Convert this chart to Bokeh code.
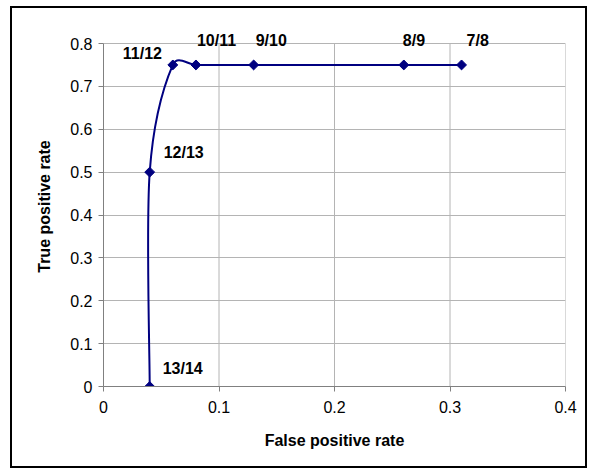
import numpy as np
from bokeh.plotting import figure
from bokeh.models import ColumnDataSource, FixedTicker, Range1d, LabelSet
from bokeh.core.properties import value
from bokeh.embed import file_html
from bokeh.resources import INLINE

# ---- data ----
fpr = [0.04, 0.04, 0.06, 0.08, 0.13, 0.26, 0.31]
tpr = [0.0, 0.5, 0.75, 0.75, 0.75, 0.75, 0.75]
labels = ["13/14", "12/13", "11/12", "10/11", "9/10", "8/9", "7/8"]
x_ticks = [0, 0.1, 0.2, 0.3, 0.4]
x_tick_labels = ["0", "0.1", "0.2", "0.3", "0.4"]
y_ticks = [0, 0.1, 0.2, 0.3, 0.4, 0.5, 0.6, 0.7, 0.8]
y_tick_labels = ["0", "0.1", "0.2", "0.3", "0.4", "0.5", "0.6", "0.7", "0.8"]

# label placement (pixels, style; dy positive = up)
label_dx = [13, 14, -50, 1, 2, -1, 5]
label_dy = [18, 20, 11, 24, 24, 24, 24]

# ---- layout (pixels) ----
W, H = 577, 462
ML, MR = 91, 24
AX_W, AX_H = 462, 343          # pixel size of the 0..0.4 x 0..0.8 axes box
PAD_TOP = 17                   # extra frame room so labels are not clipped
AX_TOP = 35                    # canvas y of 0.8
XMIN, XMAX = 0.0, 0.4
Y0, Y1 = 0.0, 0.8
sx = AX_W / (XMAX - XMIN)
sy = AX_H / (Y1 - Y0)
YMIN = Y0
YMAX = Y1 + PAD_TOP / sy
MT = AX_TOP - PAD_TOP
MB = H - (AX_TOP + AX_H)

# Excel-like smoothing: Bezier control points computed in screen space
P = np.array([[x * sx, -y * sy] for x, y in zip(fpr, tpr)])
n = len(P)
segs = {k: [] for k in ["x0", "y0", "x1", "y1", "cx0", "cy0", "cx1", "cy1"]}
for i in range(n - 1):
    p0 = P[i - 1] if i > 0 else P[i]
    p1 = P[i]
    p2 = P[i + 1]
    p3 = P[i + 2] if i + 2 < n else P[i + 1]
    t1 = (p2 - p0) / 6.0
    t2 = (p3 - p1) / 6.0
    d = np.linalg.norm(p2 - p1)
    m = max(np.linalg.norm(t1), np.linalg.norm(t2))
    f = 1.0
    if m > d / 2 and m > 0:
        f = (d / 2) / m
    c1 = p1 + t1 * f
    c2 = p2 - t2 * f
    segs["x0"].append(p1[0] / sx); segs["y0"].append(-p1[1] / sy)
    segs["x1"].append(p2[0] / sx); segs["y1"].append(-p2[1] / sy)
    segs["cx0"].append(c1[0] / sx); segs["cy0"].append(-c1[1] / sy)
    segs["cx1"].append(c2[0] / sx); segs["cy1"].append(-c2[1] / sy)

p = figure(width=W, height=H, output_backend="svg", toolbar_location=None,
           x_range=Range1d(XMIN, XMAX), y_range=Range1d(YMIN, YMAX),
           min_border_left=ML, min_border_right=MR, min_border_top=MT,
           min_border_bottom=MB)
p.styles = {"border": "2px solid black", "margin-left": "10px", "margin-top": "6px"}
p.outline_line_color = None
p.background_fill_color = "white"
p.border_fill_color = "white"

font = "Liberation Sans"
for ax in (p.xaxis, p.yaxis):
    ax.axis_line_color = "#808080"
    ax.major_tick_line_color = "#808080"
    ax.major_tick_out = 5
    ax.major_tick_in = 0
    ax.minor_tick_line_color = None
    ax.major_label_text_font = font
    ax.major_label_text_font_size = "16px"
    ax.major_label_text_color = "black"
    ax.axis_label_text_font = font
    ax.axis_label_text_font_size = "16px"
    ax.axis_label_text_font_style = "bold"
    ax.axis_label_text_color = "black"

p.xaxis.ticker = FixedTicker(ticks=x_ticks)
p.yaxis.ticker = FixedTicker(ticks=y_ticks)
p.xaxis.major_label_overrides = {t: l for t, l in zip(x_ticks, x_tick_labels)}
p.yaxis.major_label_overrides = {t: l for t, l in zip(y_ticks, y_tick_labels)}
p.xaxis.axis_label = "False positive rate"
p.yaxis.axis_label = "True positive rate"
p.xaxis.major_label_standoff = 9
p.yaxis.major_label_standoff = 6
p.xaxis.axis_label_standoff = 16
p.yaxis.axis_label_standoff = 14
p.yaxis.bounds = (Y0, Y1)

# grid: horizontal from axis grid, vertical drawn over the 0..0.8 span only
grid_color = "#b4b4b4"
p.ygrid.grid_line_color = grid_color
p.xgrid.grid_line_color = None
p.segment(x0=x_ticks, y0=[Y0] * len(x_ticks), x1=x_ticks, y1=[Y1] * len(x_ticks),
          line_color=grid_color, line_width=1, level="underlay")

p.bezier(x0="x0", y0="y0", x1="x1", y1="y1", cx0="cx0", cy0="cy0",
         cx1="cx1", cy1="cy1", source=ColumnDataSource(segs),
         line_color="#000080", line_width=2)

src = ColumnDataSource(dict(x=fpr, y=tpr, label=labels, dx=label_dx, dy=label_dy))
p.scatter("x", "y", source=src, marker="square", size=7, angle=np.pi / 4,
          fill_color="#000080", line_color="#000080")
p.add_layout(LabelSet(x="x", y="y", text="label", source=src,
                      x_offset="dx", y_offset="dy",
                      text_font=value(font), text_font_size=value("16px"),
                      text_font_style="bold", text_align="left",
                      text_baseline="middle", text_color="black"))

open("out.html", "w").write(file_html(p, INLINE))
